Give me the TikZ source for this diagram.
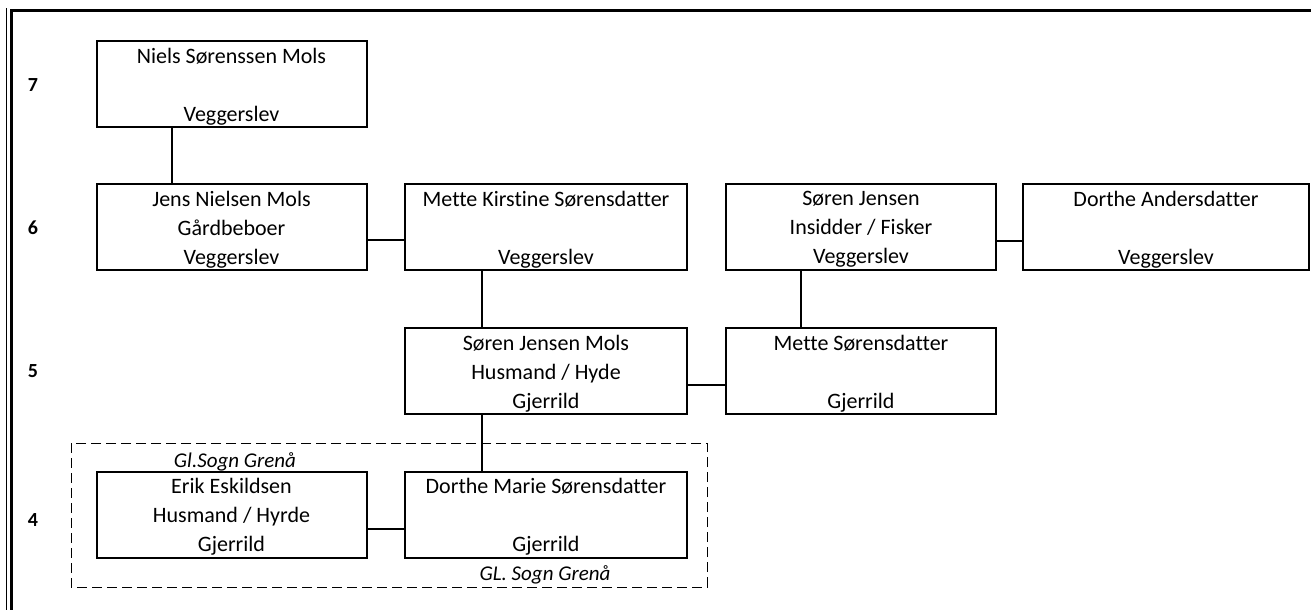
\documentclass[tikz,border=0pt]{standalone}
\usepackage{fontspec}
\setmainfont[Ligatures={NoCommon}]{Carlito}
\begin{document}
\begin{tikzpicture}[x=1pt,y=-1pt,
  person/.style={draw, line width=2pt, rectangle, minimum width=270pt, minimum height=86pt, inner sep=0pt},
  wide/.style={person, minimum width=282pt},
  txt/.style={inner sep=0pt, align=center, font=\fontsize{22}{29}\selectfont},
  gen/.style={font=\fontsize{20}{22}\selectfont\bfseries, inner sep=0pt},
  link/.style={line width=1.3pt},
  note/.style={font=\fontsize{21}{22}\selectfont\itshape, inner sep=0pt}]
\useasboundingbox (0,0) rectangle (1311,610);
% frame
\draw[line width=3pt] (11,611) -- (11,11) -- (1312,11);
\draw[line width=0.8pt] (6,611) -- (6,8);
% generation numbers
\node[gen] (g7) at (33,85) {7};
\node[gen] (g6) at (33,228) {6};
\node[gen] (g5) at (33,371) {5};
\node[gen] (g4) at (33,520) {4};
% group box
\draw[line width=1pt, dash pattern=on 10pt off 5pt] (71,443) rectangle (707,587);
\node[note] (n1) at (235,462) {Gl.Sogn Grenå};
\node[note] (n2) at (545,575) {GL. Sogn Grenå};
% persons
\node[person] (niels) at (231.5,84) {};
\node[person] (jens) at (231.5,227) {};
\node[wide] (mettek) at (546,227) {};
\node[person] (soren) at (861,227) {};
\node[person, minimum width=286pt] (dortheA) at (1166,227) {};
\node[wide] (sjm) at (546,371) {};
\node[person] (mettes) at (861,371) {};
\node[person] (erik) at (231.5,514.5) {};
\node[wide] (dorthem) at (546,514.5) {};
\node[txt] (tniels) at ([yshift=-2.5pt]niels.center) {Niels Sørenssen Mols\\ \\Veggerslev};
\node[txt] (tjens) at ([yshift=-2.5pt]jens.center) {Jens Nielsen Mols\\Gårdbeboer\\Veggerslev};
\node[txt] (tmettek) at ([yshift=-2.5pt]mettek.center) {Mette Kirstine Sørensdatter\\ \\Veggerslev};
\node[txt] (tsoren) at ([yshift=-2.5pt]soren.center) {Søren Jensen\\Insidder / Fisker\\Veggerslev};
\node[txt] (tdortheA) at ([yshift=-2.5pt]dortheA.center) {Dorthe Andersdatter\\ \\Veggerslev};
\node[txt] (tsjm) at ([yshift=-2.5pt]sjm.center) {Søren Jensen Mols\\Husmand / Hyde\\Gjerrild};
\node[txt] (tmettes) at ([yshift=-2.5pt]mettes.center) {Mette Sørensdatter\\ \\Gjerrild};
\node[txt] (terik) at ([yshift=-2.5pt]erik.center) {Erik Eskildsen\\Husmand / Hyrde\\Gjerrild};
\node[txt] (tdorthem) at ([yshift=-2.5pt]dorthem.center) {Dorthe Marie Sørensdatter\\ \\Gjerrild};
% connectors
\draw[link, line width=2.2pt] (niels.south -| 172,0) -- (jens.north -| 172,0);
\draw[link] (jens.east) ++(0,13) -- (mettek.west |- 0,240);
\draw[link] (mettek.south -| 482,0) -- (sjm.north -| 482,0);
\draw[link, line width=2pt] (soren.south -| 801,0) -- (mettes.north -| 801,0);
\draw[link] (soren.east) ++(0,14) -- (dortheA.west |- 0,241);
\draw[link] (sjm.east) ++(0,14) -- (mettes.west |- 0,385);
\draw[link] (sjm.south -| 482,0) -- (dorthem.north -| 482,0);
\draw[link] (erik.east) ++(0,14.5) -- (dorthem.west |- 0,529);
\end{tikzpicture}
\end{document}
